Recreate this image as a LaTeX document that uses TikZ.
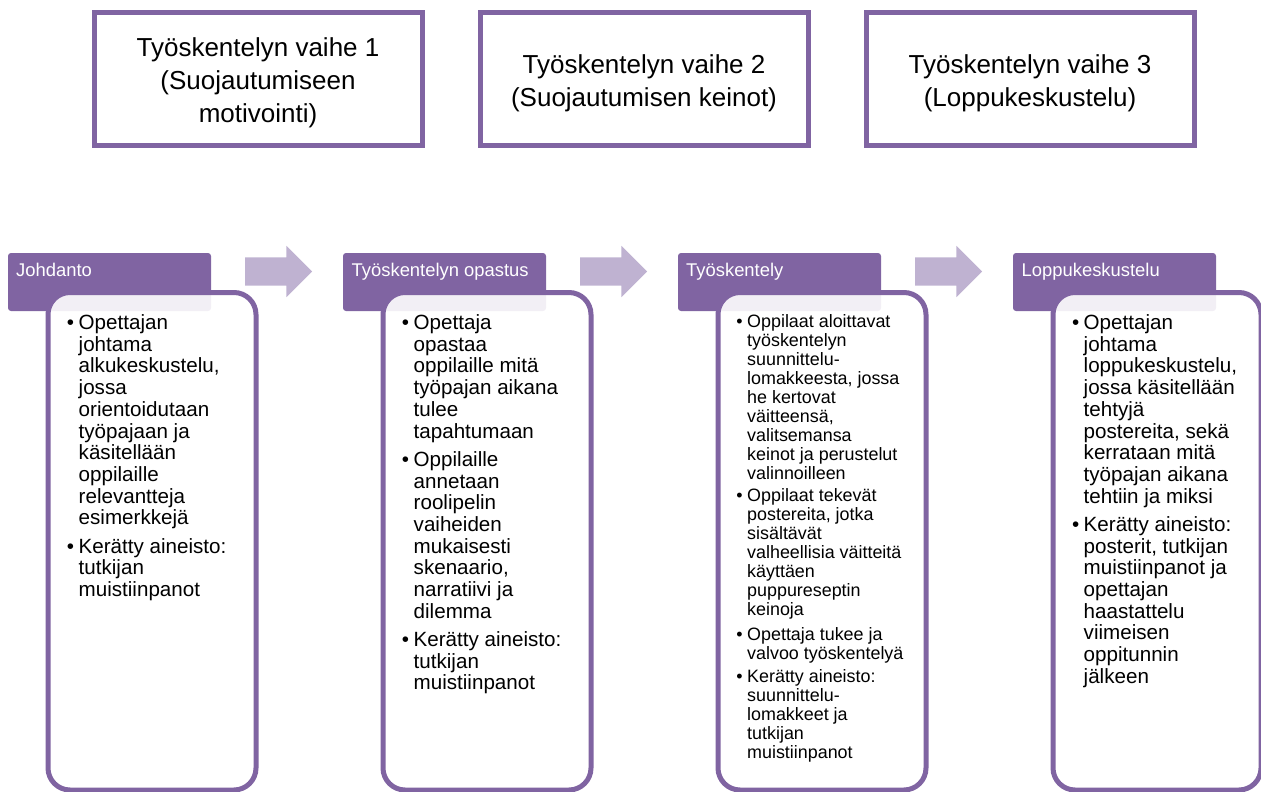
\documentclass[tikz,border=0pt]{standalone}
\usepackage{fontspec}
\setmainfont{Liberation Sans}
\usetikzlibrary{shapes.arrows}
\definecolor{pur}{HTML}{8064A2}
\definecolor{arrc}{RGB}{191,178,209}
\newcommand{\bu}{\llap{•\hspace{4.5pt}}}
\tikzset{
  topbox/.style={draw=pur, line width=5pt, fill=white, outer sep=0pt, anchor=north west,
    minimum width=328pt, minimum height=132pt},
  ttl/.style={font=\fontsize{26}{33}\selectfont, align=center, inner sep=0pt},
  hdr/.style={fill=pur, rounded corners=3pt, outer sep=0pt, anchor=north west,
    minimum width=203pt, minimum height=58pt},
  htxt/.style={font=\fontsize{18.4}{22}\selectfont, text=white, anchor=base west, inner sep=0pt},
  card/.style={draw=pur, line width=5pt, fill=white, fill opacity=0.9, rounded corners=22pt,
    outer sep=0pt, anchor=north west, minimum width=208pt, minimum height=497.5pt},
  btxt/.style={font=\fontsize{20.6}{21.7}\selectfont, align=left, anchor=base west, inner sep=0pt},
  stxt/.style={font=\fontsize{17.9}{19}\selectfont, align=left, anchor=base west, inner sep=0pt},
  arr/.style={single arrow, fill=arrc, minimum height=67pt, inner xsep=0pt, inner ysep=14pt,
    single arrow head extend=11.5pt, outer sep=0pt, anchor=west}
}
\begin{document}
\begin{tikzpicture}[x=1pt,y=-1pt]
\useasboundingbox (0,0) rectangle (1261,792);
% top boxes
\node[topbox] (v1) at (94,13) {};
\node[topbox] (v2) at (480,13) {};
\node[topbox] (v3) at (866,13) {};
\node[ttl] (v1t) at ([yshift=-3.5pt]v1.center) {Työskentelyn vaihe 1\\(Suojautumiseen\\motivointi)};
\node[ttl] (v2t) at ([yshift=-4.5pt]v2.center) {Työskentelyn vaihe 2\\(Suojautumisen keinot)};
\node[ttl] (v3t) at ([yshift=-4.5pt]v3.center) {Työskentelyn vaihe 3\\(Loppukeskustelu)};
% headers
\node[hdr] (h1) at (8,253) {};
\node[hdr] (h2) at (343,253) {};
\node[hdr] (h3) at (678,253) {};
\node[hdr] (h4) at (1013,253) {};
\node[htxt] (h1t) at (16,276) {Johdanto};
\node[htxt] (h2t) at (351.5,276) {Työskentelyn opastus};
\node[htxt] (h3t) at (686,276) {Työskentely};
\node[htxt] (h4t) at (1021.5,276) {Loppukeskustelu};
% arrows
\node[arr] (a1) at (245,271.5) {};
\node[arr] (a2) at (580,271.5) {};
\node[arr] (a3) at (915,271.5) {};
% cards
\node[card] (c1) at (48,292.5) {};
\node[card] (c2) at (383,292.5) {};
\node[card] (c3) at (718,292.5) {};
\node[card] (c4) at (1053,292.5) {};
% card texts: each node is placed at the baseline of its LAST line
\node[btxt] (c1b1) at (78.5,524.8) {\bu Opettajan\\johtama\\alkukeskustelu,\\jossa\\orientoidutaan\\työpajaan ja\\käsitellään\\oppilaille\\relevantteja\\esimerkkejä};
\node[btxt] (c1b2) at (78.5,596.5) {\bu Kerätty aineisto:\\tutkijan\\muistiinpanot};
\node[btxt] (c2b1) at (413.5,438) {\bu Opettaja\\opastaa\\oppilaille mitä\\työpajan aikana\\tulee\\tapahtumaan};
\node[btxt] (c2b2) at (413.5,618.2) {\bu Oppilaille\\annetaan\\roolipelin\\vaiheiden\\mukaisesti\\skenaario,\\narratiivi ja\\dilemma};
\node[btxt] (c2b3) at (413.5,689.9) {\bu Kerätty aineisto:\\tutkijan\\muistiinpanot};
\node[stxt] (c3b1) at (747,479) {\bu Oppilaat aloittavat\\työskentelyn\\suunnittelu-\\lomakkeesta, jossa\\he kertovat\\väitteensä,\\valitsemansa\\keinot ja perustelut\\valinnoilleen};
\node[stxt] (c3b2) at (747,615.7) {\bu Oppilaat tekevät\\postereita, jotka\\sisältävät\\valheellisia väitteitä\\käyttäen\\puppureseptin\\keinoja};
\node[stxt] (c3b3) at (747,659.7) {\bu Opettaja tukee ja\\valvoo työskentelyä};
\node[stxt] (c3b4) at (747,758.7) {\bu Kerätty aineisto:\\suunnittelu-\\lomakkeet ja\\tutkijan\\muistiinpanot};
\node[btxt] (c4b1) at (1083.5,503.1) {\bu Opettajan\\johtama\\loppukeskustelu,\\jossa käsitellään\\tehtyjä\\postereita, sekä\\kerrataan mitä\\työpajan aikana\\tehtiin ja miksi};
\node[btxt] (c4b2) at (1083.5,683.3) {\bu Kerätty aineisto:\\posterit, tutkijan\\muistiinpanot ja\\opettajan\\haastattelu\\viimeisen\\oppitunnin\\jälkeen};
\end{tikzpicture}
\end{document}
